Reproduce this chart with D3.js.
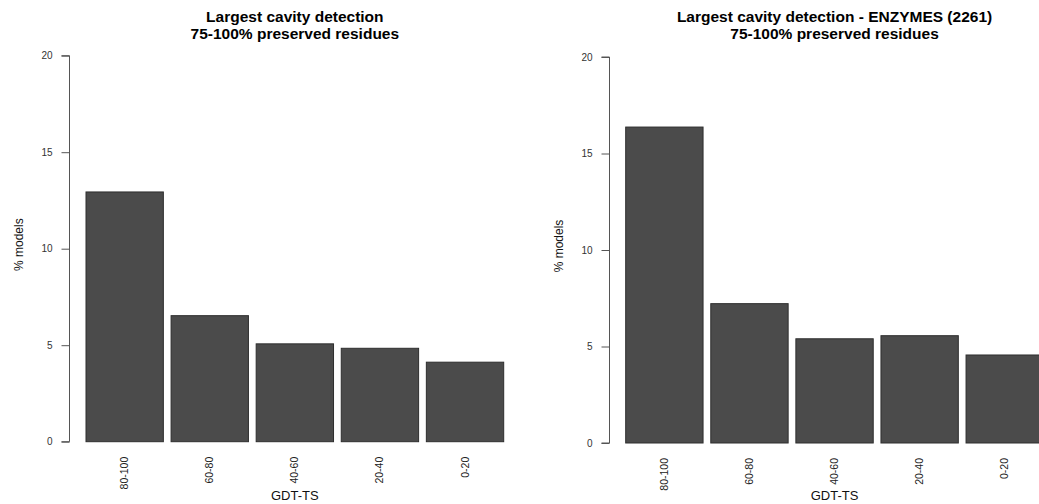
<!DOCTYPE html>
<html>
<head>
<meta charset="utf-8">
<script src="https://cdn.jsdelivr.net/npm/d3@7"></script>
<style>
  html, body { margin: 0; padding: 0; background: #fff; }
  svg { display: block; }
  text { font-family: "Liberation Sans", Arial, Helvetica, sans-serif; }
</style>
</head>
<body>
<svg id="chart" width="1039" height="504"></svg>
<script>
// GDT-TS bins, largest-cavity detection rate (% of models)
const categories = ["80-100", "60-80", "40-60", "20-40", "0-20"];
const allModels = [12.94, 6.53, 5.07, 4.84, 4.12];
const enzymes = [16.37, 7.22, 5.40, 5.56, 4.56];
const yTicks = [0, 5, 10, 15, 20];

const titlesLeft = ["Largest cavity detection", "75-100% preserved residues"];
const titlesRight = ["Largest cavity detection - ENZYMES (2261)", "75-100% preserved residues"];

const svg = d3.select("#chart");

function panel(values, titles, cfg) {
  const g = svg.append("g");

  const y = d3.scaleLinear().domain([0, 20]).range([cfg.yBottom, cfg.yTop]);
  const x = d3.scaleBand()
    .domain(categories)
    .range([cfg.xLeft, cfg.xRight])
    .paddingInner(1 / 11)
    .paddingOuter(0);

  // bars
  g.selectAll("rect.bar")
    .data(values)
    .join("rect")
    .attr("class", "bar")
    .attr("x", (d, i) => x(categories[i]))
    .attr("y", d => y(d))
    .attr("width", x.bandwidth())
    .attr("height", d => y(0) - y(d))
    .attr("fill", "#4b4b4b")
    .attr("stroke", "#2e2e2e")
    .attr("stroke-width", 1);

  // y axis
  const axis = d3.axisLeft(y).tickValues(yTicks).tickSize(8).tickPadding(9)
    .tickFormat(d3.format("d"));
  const ag = g.append("g")
    .attr("transform", `translate(${cfg.axisX},0)`)
    .call(axis);
  ag.select(".domain").attr("stroke", "#555").attr("d", `M-8,${y(0)}H0V${y(20)}H-8`);
  ag.selectAll(".tick line").attr("stroke", "#555");
  ag.selectAll(".tick text")
    .attr("fill", "#333")
    .style("font-size", "10px");

  // category labels, rotated
  g.selectAll("text.cat")
    .data(categories)
    .join("text")
    .attr("class", "cat")
    .attr("transform", d => `translate(${x(d) + x.bandwidth() / 2 + 3.5},${cfg.yBottom + 15}) rotate(-90)`)
    .attr("text-anchor", "end")
    .attr("fill", "#222")
    .style("font-size", "10.5px")
    .text(d => d);

  const cx = (cfg.xLeft + cfg.xRight) / 2;

  // x axis title
  g.append("text")
    .attr("x", cx)
    .attr("y", 500)
    .attr("text-anchor", "middle")
    .attr("fill", "#111")
    .style("font-size", "13px")
    .text("GDT-TS");

  // y axis title
  g.append("text")
    .attr("transform", `translate(${cfg.axisX - 46.5},${(cfg.yBottom + cfg.yTop) / 2 - 4}) rotate(-90)`)
    .attr("text-anchor", "middle")
    .attr("fill", "#111")
    .style("font-size", "12px")
    .text("% models");

  // two-line bold title
  titles.forEach((t, i) => {
    g.append("text")
      .attr("x", cx)
      .attr("y", 21.5 + i * 17.5)
      .attr("text-anchor", "middle")
      .attr("fill", "#000")
      .style("font-size", "15.5px")
      .style("font-weight", "bold")
      .text(t);
  });
}

panel(allModels, titlesLeft, {
  xLeft: 86, xRight: 503.7, yTop: 55.7, yBottom: 441.7, axisX: 69.5
});
panel(enzymes, titlesRight, {
  xLeft: 625.7, xRight: 1043.4, yTop: 57, yBottom: 443, axisX: 609.5
});
</script>
</body>
</html>
